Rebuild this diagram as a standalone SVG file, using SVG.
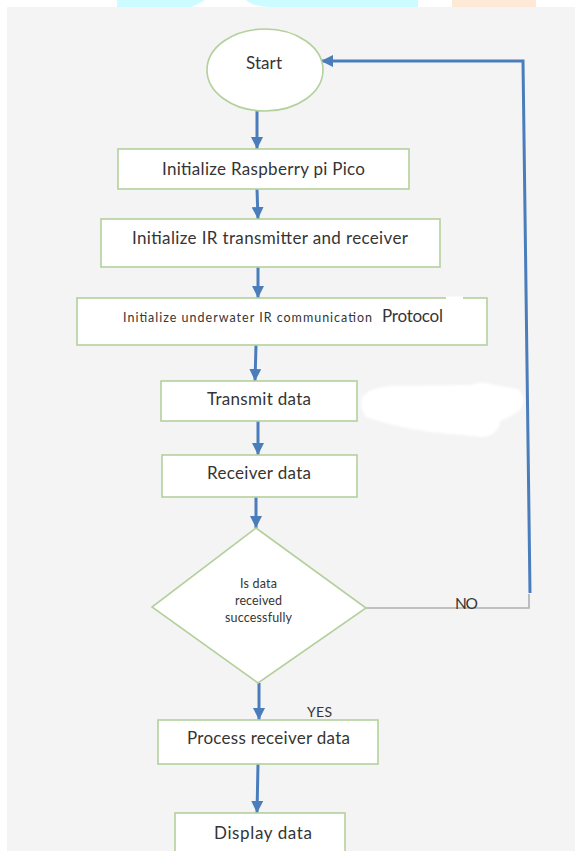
<svg xmlns="http://www.w3.org/2000/svg" width="575" height="851" viewBox="0 0 575 851">
<style>
.node{fill:#ffffff;stroke:#b4d09c;stroke-width:1.6}
.lbl{font-family:Lato,"Liberation Sans",sans-serif;fill:#353535;text-anchor:middle}
.arr{stroke:#4a7dbb;stroke-width:3;fill:none}
</style>
<defs>
<marker id="ah" markerUnits="userSpaceOnUse" markerWidth="14" markerHeight="12" refX="12" refY="6" orient="auto">
<path d="M0,0 L12,6 L0,12 Z" fill="#4a7dbb"/>
</marker>
<filter id="soft" x="-10%" y="-20%" width="120%" height="140%"><feGaussianBlur stdDeviation="1.2"/></filter>
</defs>
<rect x="0" y="0" width="575" height="851" fill="#ffffff"/>
<rect x="7" y="7" width="568" height="844" fill="#f4f4f4"/>
<path d="M117,0 H205 L192,7 H117 Z" fill="#ccfcff"/>
<path d="M246,0 H418 V7 H268 Q252,6 246,0 Z" fill="#ccfcff"/>
<rect x="452" y="0" width="84" height="7" fill="#fde9d6"/>
<path d="M363,396 Q372,387 392,386 L470,385 Q482,380 494,385 L518,389 Q527,398 521,409 Q510,418 500,421 Q498,436 482,437 L430,432 Q395,427 366,417 Q358,406 363,396 Z" fill="#ffffff" filter="url(#soft)"/>
<g id="connectors">
<line class="arr" x1="257" y1="111" x2="257" y2="149" marker-end="url(#ah)"/>
<line class="arr" x1="257" y1="189" x2="258" y2="219" marker-end="url(#ah)"/>
<line class="arr" x1="258" y1="267" x2="258" y2="298" marker-end="url(#ah)"/>
<line class="arr" x1="256" y1="345" x2="255" y2="381" marker-end="url(#ah)"/>
<line class="arr" x1="258" y1="421" x2="258" y2="455" marker-end="url(#ah)"/>
<line class="arr" x1="256" y1="497" x2="256" y2="528" marker-end="url(#ah)"/>
<line class="arr" x1="259" y1="683" x2="259" y2="720" marker-end="url(#ah)"/>
<line class="arr" x1="258" y1="764" x2="257" y2="813" marker-end="url(#ah)"/>
<polyline points="366,608 529,608 529,594" fill="none" stroke="#b0b0b0" stroke-width="1.6"/>
<polyline class="arr" points="530,593 523,61 321,61" marker-end="url(#ah)"/>
<text class="lbl" x="466.5" y="609" font-size="15.5" textLength="23">NO</text>
<text class="lbl" x="319.5" y="717" font-size="14" textLength="25">YES</text>
</g>
<g id="start">
<ellipse class="node" cx="265" cy="70" rx="58" ry="41"/>
<text class="lbl" x="264" y="69" font-size="17" textLength="36">Start</text>
</g>
<g id="init-pico">
<rect class="node" x="118" y="149" width="291" height="40"/>
<text class="lbl" x="263.5" y="175" font-size="17" textLength="203">Initialize Raspberry pi Pico</text>
</g>
<g id="init-ir">
<rect class="node" x="101" y="219" width="339" height="48"/>
<text class="lbl" x="270" y="244" font-size="17" textLength="276">Initialize IR transmitter and receiver</text>
</g>
<g id="init-protocol">
<rect class="node" x="77" y="298" width="410" height="47"/>
<path d="M446,298 H463" stroke="#ffffff" stroke-width="3"/>
<text class="lbl" x="247.5" y="321.5" font-size="12.5" textLength="249">Initialize underwater IR communication</text>
<text class="lbl" x="412.5" y="322" font-size="17" textLength="61">Protocol</text>
</g>
<g id="transmit">
<rect class="node" x="161" y="381" width="196" height="40"/>
<text class="lbl" x="259" y="405" font-size="17" textLength="104">Transmit data</text>
</g>
<g id="receive">
<rect class="node" x="162" y="455" width="195" height="42"/>
<text class="lbl" x="259" y="479" font-size="17" textLength="104">Receiver data</text>
</g>
<g id="decision">
<polygon class="node" points="256,528 366,608 258,683 152,607"/>
<text class="lbl" x="258.5" y="588" font-size="12.5" textLength="37">Is data</text>
<text class="lbl" x="258.5" y="605" font-size="12.5" textLength="47">received</text>
<text class="lbl" x="258.5" y="622" font-size="12.5" textLength="67">successfully</text>
</g>
<g id="process">
<rect class="node" x="158" y="720" width="220" height="44"/>
<text class="lbl" x="268.5" y="744" font-size="17" textLength="163">Process receiver data</text>
</g>
<g id="display">
<rect class="node" x="175" y="813" width="170" height="50"/>
<text class="lbl" x="263" y="839" font-size="17" textLength="98">Display data</text>
</g>
</svg>
